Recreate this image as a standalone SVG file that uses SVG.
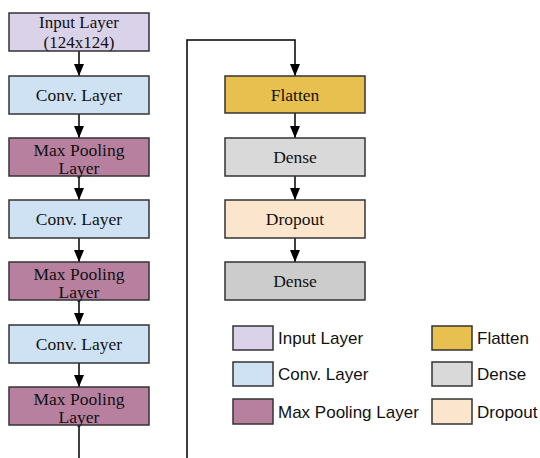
<svg xmlns="http://www.w3.org/2000/svg" width="540" height="458" viewBox="0 0 540 458">
<style>
.box{stroke:#333;stroke-width:1.5}
.t{font-family:"Liberation Serif","Times New Roman",serif;font-size:17.5px;fill:#111;text-anchor:middle}
.t2{font-size:17px}
.lg{font-family:"Liberation Sans",Arial,sans-serif;font-size:17px;fill:#111}
.c{stroke:#000;stroke-width:1.5;fill:none}
.inp{fill:#d9d2e9}.conv{fill:#cfe2f3}.pool{fill:#b8809f}.flat{fill:#e8c04f}.dense{fill:#d9d9d9}.dense2{fill:#cccccc}.drop{fill:#fce5cd}
</style>
<defs>
<marker id="ah" markerWidth="12" markerHeight="10" refX="12" refY="5" orient="auto" markerUnits="userSpaceOnUse" viewBox="0 0 12 10">
<path d="M0,0 L12,5 L0,10 Z" fill="#000"/>
</marker>
</defs>
<rect width="540" height="458" fill="#fff"/>
<g id="connectors">
<line class="c" x1="79" y1="51" x2="79" y2="76" marker-end="url(#ah)"/>
<line class="c" x1="79" y1="114" x2="79" y2="138" marker-end="url(#ah)"/>
<line class="c" x1="79" y1="176" x2="79" y2="200" marker-end="url(#ah)"/>
<line class="c" x1="79" y1="238" x2="79" y2="262" marker-end="url(#ah)"/>
<line class="c" x1="79" y1="300" x2="79" y2="325" marker-end="url(#ah)"/>
<line class="c" x1="79" y1="363" x2="79" y2="387" marker-end="url(#ah)"/>
<line class="c" x1="79" y1="425" x2="79" y2="458"/>
<polyline class="c" points="187,458 187,40 295,40 295,76" marker-end="url(#ah)"/>
<line class="c" x1="295" y1="113" x2="295" y2="138" marker-end="url(#ah)"/>
<line class="c" x1="295" y1="176" x2="295" y2="200" marker-end="url(#ah)"/>
<line class="c" x1="295" y1="238" x2="295" y2="262" marker-end="url(#ah)"/>
</g>
<g id="input"><rect class="box inp" x="9" y="13" width="140" height="38"/><text class="t t2" x="79" y="28">Input Layer</text><text class="t t2" x="79" y="48">(124x124)</text></g>
<g id="conv1"><rect class="box conv" x="9" y="76" width="140" height="38"/><text class="t" x="79" y="101">Conv. Layer</text></g>
<g id="pool1"><rect class="box pool" x="9" y="138" width="140" height="38"/><text class="t" x="79" y="156">Max Pooling</text><text class="t" x="79" y="174">Layer</text></g>
<g id="conv2"><rect class="box conv" x="9" y="200" width="140" height="38"/><text class="t" x="79" y="225">Conv. Layer</text></g>
<g id="pool2"><rect class="box pool" x="9" y="262" width="140" height="38"/><text class="t" x="79" y="280">Max Pooling</text><text class="t" x="79" y="298">Layer</text></g>
<g id="conv3"><rect class="box conv" x="9" y="325" width="140" height="38"/><text class="t" x="79" y="350">Conv. Layer</text></g>
<g id="pool3"><rect class="box pool" x="9" y="387" width="140" height="38"/><text class="t" x="79" y="405">Max Pooling</text><text class="t" x="79" y="423">Layer</text></g>
<g id="flatten"><rect class="box flat" x="225" y="76" width="140" height="37"/><text class="t" x="295" y="101">Flatten</text></g>
<g id="dense1"><rect class="box dense" x="225" y="138" width="140" height="38"/><text class="t" x="295" y="163">Dense</text></g>
<g id="dropout"><rect class="box drop" x="225" y="200" width="140" height="38"/><text class="t" x="295" y="225">Dropout</text></g>
<g id="dense2"><rect class="box dense2" x="225" y="262" width="140" height="38"/><text class="t" x="295" y="287">Dense</text></g>
<g id="legend">
<rect class="box inp" x="233" y="326" width="40" height="24"/><text class="lg" x="278" y="344">Input Layer</text>
<rect class="box conv" x="233" y="362" width="40" height="24"/><text class="lg" x="278" y="380">Conv. Layer</text>
<rect class="box pool" x="233" y="399" width="40" height="25"/><text class="lg" x="278" y="418">Max Pooling Layer</text>
<rect class="box flat" x="432" y="326" width="40" height="24"/><text class="lg" x="477" y="344">Flatten</text>
<rect class="box dense" x="432" y="362" width="40" height="24"/><text class="lg" x="477" y="380">Dense</text>
<rect class="box drop" x="432" y="399" width="40" height="25"/><text class="lg" x="477" y="418">Dropout</text>
</g>
</svg>
